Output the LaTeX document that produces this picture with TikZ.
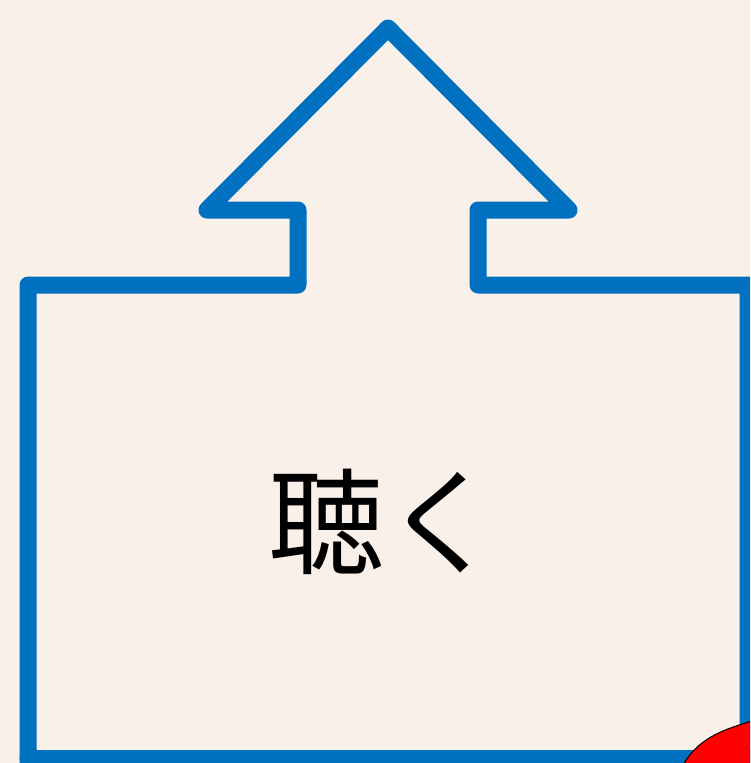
\documentclass[tikz,border=0pt]{standalone}
\usepackage{fontspec}
\newfontfamily\cjk{Noto Sans CJK JP}
\definecolor{bgc}{HTML}{F9F0EA}
\definecolor{arrowblue}{HTML}{0070C0}
\begin{document}
\begin{tikzpicture}[x=1pt,y=-1pt,
  outline/.style={draw=arrowblue,line width=17pt,line join=round,line cap=round}]
\useasboundingbox (0,0) rectangle (750,763);
\fill[bgc] (0,0) rectangle (750,763);
\begin{scope}
\clip (0,0) rectangle (750,763);
\draw[outline] (28,772) -- (28,285) -- (298,285) -- (298,210) -- (207,210) -- (388,28) -- (569,210) -- (478,210) -- (478,285) -- (748,285) -- (748,772);
\draw[outline] (28,758) -- (760,758);
\fill[red,draw=black,line width=1pt] (683,765) .. controls (700,735) and (730,728) .. (752,721) -- (752,765) -- cycle;
\end{scope}
\node (label) at (384,522) {\cjk\fontsize{116}{130}\selectfont 聴く};
\end{tikzpicture}
\end{document}
